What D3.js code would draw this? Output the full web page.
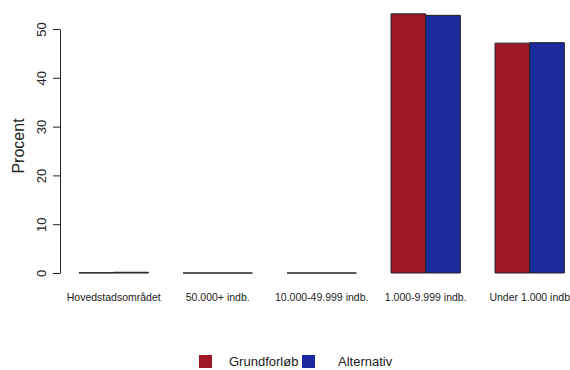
<!DOCTYPE html>
<html>
<head>
<meta charset="utf-8">
<script src="https://cdn.jsdelivr.net/npm/d3@7"></script>
<style>
body{margin:0;background:#fff;}
text{font-family:"Liberation Sans",Arial,sans-serif;fill:#222;}
</style>
</head>
<body>
<svg width="570" height="370"></svg>
<script>
var categories = ["Hovedstadsområdet","50.000+ indb.","10.000-49.999 indb.","1.000-9.999 indb.","Under 1.000 indb"];
var seriesNames = ["Grundforløb","Alternativ"];
var grundforlob = [0.05, 0, 0, 53.1, 47.1];
var alternativ = [0.15, 0, 0, 52.8, 47.2];
var yTicks = [0,10,20,30,40,50];
var colors = ["#9E1828","#1A2A9E"];

var svg = d3.select("svg");

var x = d3.scaleBand()
    .domain(categories)
    .range([61.7, 581.7])
    .paddingInner(1/3)
    .paddingOuter(1/6);

var xs = d3.scaleBand()
    .domain(seriesNames)
    .range([0, x.bandwidth()]);

var y = d3.scaleLinear().domain([0,50]).range([273,29]);

var rows = [];
categories.forEach(function(c,i){
  rows.push({cat:c, s:seriesNames[0], v:grundforlob[i], col:colors[0]});
  rows.push({cat:c, s:seriesNames[1], v:alternativ[i], col:colors[1]});
});

// bars as paths so zero-height ones still show as a line
svg.selectAll("path.bar")
  .data(rows)
  .enter()
  .append("path")
  .attr("class","bar")
  .attr("d",function(d){
    var x0 = x(d.cat)+xs(d.s), x1 = x0+xs.bandwidth();
    var y0 = y(0), y1 = y(d.v);
    return "M"+x0+","+y0+"V"+y1+"H"+x1+"V"+y0+"Z";
  })
  .attr("fill",d=>d.col)
  .attr("stroke","#222")
  .attr("stroke-width",1);

// y axis, R style
var yAxis = svg.append("g")
  .attr("transform","translate(60,0)")
  .call(d3.axisLeft(y).tickValues(yTicks).tickSize(7).tickSizeOuter(0));
yAxis.select(".domain").attr("stroke","#222");
yAxis.selectAll(".tick line").attr("stroke","#222");
yAxis.selectAll(".tick text")
  .attr("font-size",13)
  .attr("x",0).attr("dy",0)
  .attr("text-anchor","middle")
  .attr("transform","translate(-14,0) rotate(-90)")
  .style("font-family","Liberation Sans, Arial, sans-serif");

svg.append("text")
  .attr("transform","translate(24,146) rotate(-90)")
  .attr("text-anchor","middle")
  .attr("font-size",16)
  .text("Procent");

// category labels
svg.selectAll("text.cat")
  .data(categories)
  .enter()
  .append("text")
  .attr("class","cat")
  .attr("x",d=>x(d)+x.bandwidth()/2)
  .attr("y",301)
  .attr("text-anchor","middle")
  .attr("font-size",10.5)
  .text(d=>d);

// legend
var leg = svg.append("g");
var legX = [199, 302];
var legTextX = [229, 338];
seriesNames.forEach(function(s,i){
  leg.append("rect")
    .attr("x",legX[i]).attr("y",355)
    .attr("width",13).attr("height",13)
    .attr("fill",colors[i]);
  leg.append("text")
    .attr("x",legTextX[i]).attr("y",366)
    .attr("font-size",13)
    .text(s);
});
</script>
</body>
</html>
